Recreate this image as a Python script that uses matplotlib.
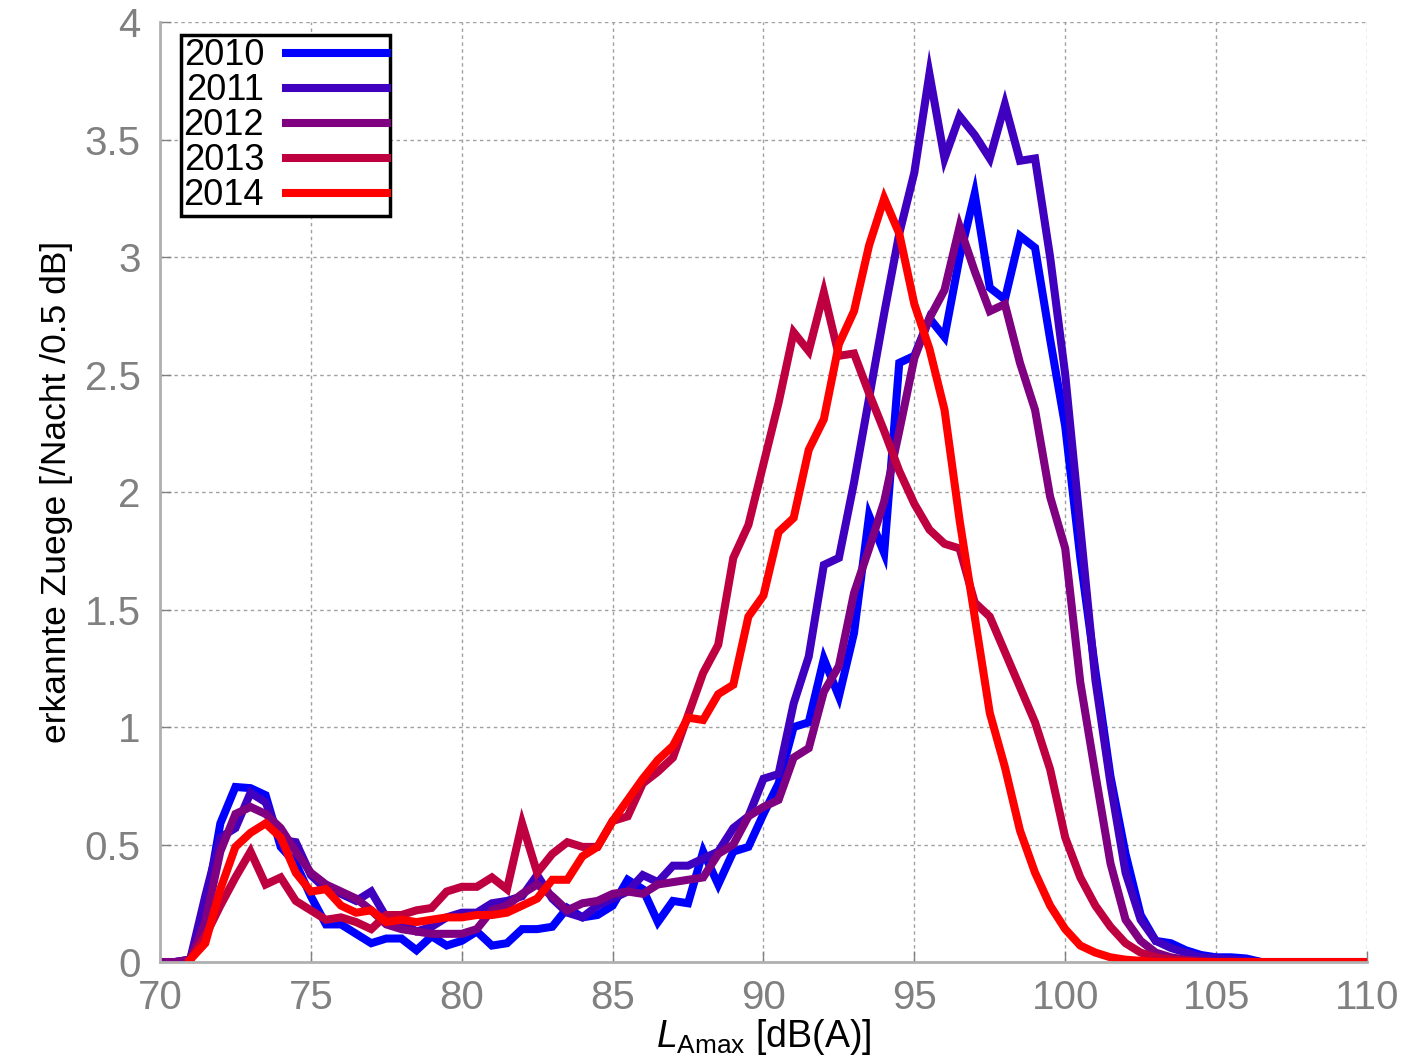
import numpy as np
import matplotlib
matplotlib.use("Agg")
import matplotlib.pyplot as plt

# level bins, 0.5 dB steps from 70 to 110
x = np.arange(70, 110.01, 0.5)
nan = np.nan

tail0 = [0.0] * 8   # 106.5 .. 110

y2010 = [0, 0, 0.01, 0.22, 0.59, 0.745, 0.74, 0.71, 0.49, 0.42,
         0.28, 0.16, 0.16, 0.12, 0.08, 0.10, 0.10, 0.05, 0.11, 0.07,
         0.09, 0.13, 0.07, 0.08, 0.14, 0.14, 0.15, 0.23, 0.19, 0.20,
         0.24, 0.35, 0.31, 0.17, 0.26, 0.25, 0.47, 0.33, 0.47, 0.49,
         0.63, 0.76, 1.00, 1.02, 1.29, 1.13, 1.40, 1.90, 1.74, 2.55,
         2.58, 2.74, 2.66, 3.00, 3.27, 2.87, 2.82, 3.09, 3.04, 2.65,
         2.28, 1.72, 1.24, 0.79, 0.46, 0.20, 0.09, 0.08, 0.05, 0.03,
         0.02, 0.02, 0.015] + tail0

y2011 = [0, 0, 0.01, 0.28, 0.53, 0.57, 0.72, 0.68, 0.52, 0.51,
         0.37, 0.31, 0.29, 0.26, 0.30, 0.19, 0.17, 0.13, 0.15, 0.19,
         0.21, 0.21, 0.25, 0.26, 0.28, 0.37, 0.27, 0.21, 0.19, 0.24,
         0.27, 0.30, 0.37, 0.34, 0.41, 0.41, 0.44, 0.47, 0.57, 0.62,
         0.78, 0.80, 1.10, 1.30, 1.69, 1.72, 2.04, 2.40, 2.76, 3.10,
         3.36, 3.78, 3.42, 3.60, 3.52, 3.42, 3.65, 3.41, 3.42, 3.00,
         2.50, 1.85, 1.20, 0.76, 0.38, 0.18, 0.09, 0.06, 0.04, 0.02,
         0.015, 0.01, 0.005] + tail0

y2012 = [0, 0, 0.01, 0.17, 0.47, 0.63, 0.66, 0.63, 0.57, 0.47,
         0.38, 0.33, 0.30, 0.27, 0.22, 0.16, 0.14, 0.13, 0.12, 0.12,
         0.12, 0.14, 0.22, 0.24, 0.29, 0.33, 0.28, 0.22, 0.25, 0.26,
         0.29, 0.30, 0.29, 0.33, 0.34, 0.35, 0.36, 0.46, 0.50, 0.62,
         0.66, 0.69, 0.87, 0.91, 1.15, 1.26, 1.57, 1.76, 1.96, 2.26,
         2.57, 2.74, 2.86, 3.13, 2.94, 2.77, 2.80, 2.55, 2.35, 1.98,
         1.76, 1.19, 0.80, 0.42, 0.18, 0.09, 0.04, 0.02, 0.01, 0.005,
         0, 0, 0] + tail0

y2013 = [nan, nan, 0.01, 0.11, 0.24, 0.36, 0.47, 0.33, 0.36, 0.26,
         0.22, 0.18, 0.19, 0.17, 0.14, 0.20, 0.20, 0.22, 0.23, 0.30,
         0.32, 0.32, 0.36, 0.31, 0.59, 0.38, 0.46, 0.51, 0.49, 0.49,
         0.60, 0.62, 0.76, 0.81, 0.87, 1.05, 1.23, 1.35, 1.72, 1.86,
         2.12, 2.38, 2.68, 2.60, 2.85, 2.58, 2.59, 2.42, 2.26, 2.09,
         1.95, 1.84, 1.78, 1.76, 1.53, 1.47, 1.32, 1.17, 1.02, 0.82,
         0.53, 0.36, 0.24, 0.15, 0.08, 0.04, 0.02, 0.01, 0.005, 0,
         0, 0, 0] + tail0

y2014 = [nan, nan, 0.01, 0.08, 0.31, 0.49, 0.55, 0.59, 0.53, 0.38,
         0.30, 0.31, 0.24, 0.21, 0.22, 0.17, 0.18, 0.17, 0.18, 0.19,
         0.19, 0.20, 0.20, 0.21, 0.24, 0.27, 0.35, 0.35, 0.45, 0.49,
         0.60, 0.69, 0.78, 0.86, 0.92, 1.04, 1.03, 1.14, 1.18, 1.47,
         1.56, 1.83, 1.89, 2.18, 2.31, 2.63, 2.77, 3.05, 3.25, 3.10,
         2.80, 2.61, 2.35, 1.88, 1.47, 1.06, 0.83, 0.56, 0.38, 0.24,
         0.14, 0.07, 0.04, 0.02, 0.01, 0.005, 0, 0, 0, 0,
         0, 0, 0] + tail0

years = ["2010", "2011", "2012", "2013", "2014"]
series = [y2010, y2011, y2012, y2013, y2014]
colors = ["#0000ff", "#3f00c0", "#7f0080", "#bf0040", "#ff0000"]

plt.rcParams["mathtext.fontset"] = "custom"
plt.rcParams["mathtext.rm"] = "Liberation Sans"
plt.rcParams["mathtext.it"] = "Liberation Sans:italic"
plt.rcParams["font.family"] = ["Liberation Sans", "DejaVu Sans"]

fig = plt.figure(figsize=(14.01, 10.56), dpi=100)
ax = fig.add_axes([0.1142, 0.089, 0.8615, 0.890])

for yr, ys, c in zip(years, series, colors):
    ax.plot(x, ys, color=c, lw=5.8, label=yr, solid_joinstyle="miter")

ax.set_xlim(70, 110)
ax.set_ylim(0, 4)
ax.set_xticks(np.arange(70, 111, 5))
ax.set_yticks(np.arange(0, 4.01, 0.5))
ax.set_yticklabels(["0", "0.5", "1", "1.5", "2", "2.5", "3", "3.5", "4"])

grey = "#808080"
ax.grid(True, color="#a0a0a0", linestyle=(0, (2.5, 2.5)), lw=1)
for s in ["top", "right"]:
    ax.spines[s].set_visible(False)
for s in ["left", "bottom"]:
    ax.spines[s].set_color("#b0b0b0")
    ax.spines[s].set_linewidth(2)
ax.tick_params(direction="in", length=8, width=1, color=grey,
               labelcolor=grey, labelsize=29)
ax.tick_params(axis="x", pad=12)
ax.tick_params(axis="y", pad=14)

ax.set_xlabel(r"$L_\mathrm{Amax}$ [dB(A)]", fontsize=27, labelpad=0)
ax.set_ylabel("erkannte Zuege [/Nacht /0.5 dB]", fontsize=25.5, labelpad=8)

leg = ax.legend(loc="upper left", bbox_to_anchor=(0.017, 0.986),
                fontsize=26, markerfirst=False, handlelength=2.8,
                handletextpad=0.6, labelspacing=0.0, borderpad=0.08,
                borderaxespad=0.0, fancybox=False, framealpha=1)
leg.get_frame().set_edgecolor("black")
leg.get_frame().set_linewidth(2.5)

fig.savefig("out.png", dpi=100)
